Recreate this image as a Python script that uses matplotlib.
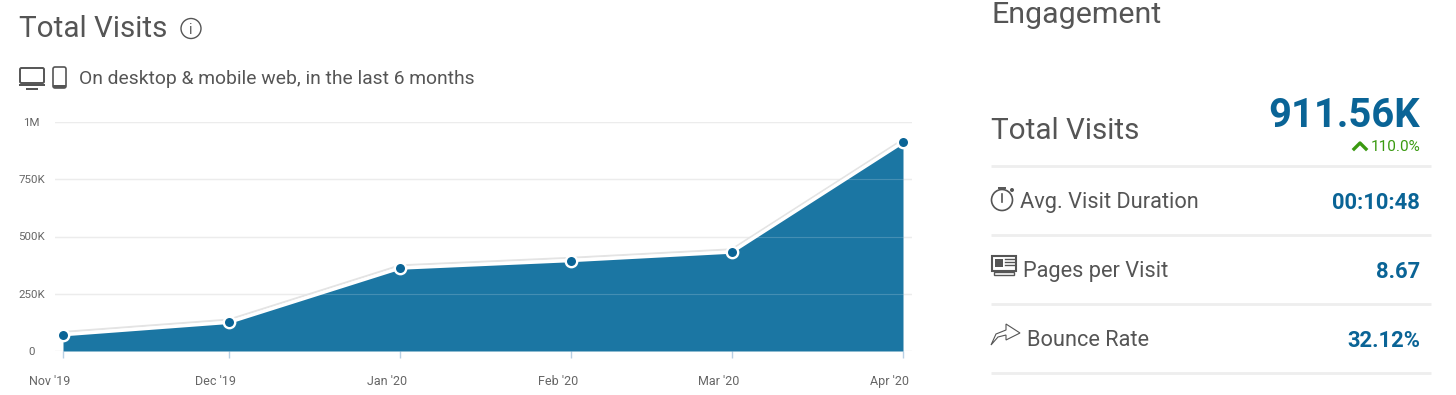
#!/usr/bin/env python3

import matplotlib
matplotlib.use("Agg")
import matplotlib.pyplot as plt
import matplotlib.dates as mdates
from matplotlib.patches import Circle, Rectangle, FancyBboxPatch, Polygon
from matplotlib.transforms import ScaledTranslation
from datetime import date

months = [date(2019, 11, 1), date(2019, 12, 1), date(2020, 1, 1),
          date(2020, 2, 1), date(2020, 3, 1), date(2020, 4, 1)]
month_labels = ["Nov '19", "Dec '19", "Jan '20", "Feb '20", "Mar '20", "Apr '20"]
visits = [71000, 125000, 362000, 395000, 432000, 911560]
y_ticks = [0, 250000, 500000, 750000, 1000000]
y_labels = ["0", "250K", "500K", "750K", "1M"]

stat_names = ["Avg. Visit Duration", "Pages per Visit", "Bounce Rate"]
stat_values = ["00:10:48", "8.67", "32.12%"]
stat_name_x = [1020, 1023, 1027]
stat_base_y = [208, 277, 346]
rule_y = [166, 235, 304, 373]

GREY = "#555555"
BLUE = "#0a6496"
AREA = "#1b76a3"
W, H = 1456, 395

plt.rcParams["font.family"] = "Roboto"


def px(size):
    return size * 72 / 100


fig = plt.figure(figsize=(W / 100, H / 100), dpi=100)

# chart, placed by pixels
left, right, top, bottom = 55, 912, 122, 351
ax = fig.add_axes([left / W, 1 - bottom / H, (right - left) / W, (bottom - top) / H])
x = mdates.date2num(months)
per_px = (x[-1] - x[0]) / (903 - 63)
ax.set_xlim(x[0] - 8 * per_px, x[-1] + 9 * per_px)
ax.set_ylim(0, 1000000)

ax.fill_between(x, 0, visits, color=AREA, lw=0, zorder=2)
shadow = ax.transData + ScaledTranslation(0, 2.8 / 100, fig.dpi_scale_trans)
ax.plot(x, visits, color="#e4e4e4", lw=1.4, zorder=3, transform=shadow, clip_on=False)
ax.plot(x, visits, color="white", lw=2.4, zorder=4, clip_on=False)
ax.plot(x, visits, ls="none", marker="o", ms=8.2, mfc=BLUE, mec="white", mew=1.7,
        zorder=5, clip_on=False)

for t in y_ticks:
    ax.axhline(t, color="#e8e8e8", lw=1, zorder=1)
    if t > 0:
        ax.axhline(t, color="white", lw=0.8, alpha=0.18, zorder=2.5)

for s in ax.spines.values():
    s.set_visible(False)
ax.set_xticks(x, month_labels)
ax.set_yticks(y_ticks, y_labels)
ax.tick_params(axis="x", length=5, width=1, color="#b9d0e4", labelsize=px(12.5), labelcolor="#666666", pad=12)
ax.tick_params(axis="y", length=0, labelsize=px(11.5), labelcolor="#666666", pad=0)

# tick labels sit left of their ticks on the x axis, centred in a column on the y axis
shift = ScaledTranslation(-13 / 100, 0, fig.dpi_scale_trans)
for lab in ax.get_xticklabels():
    lab.set_transform(lab.get_transform() + shift)
col = ScaledTranslation(-(55 - 31.5) / 100, 0, fig.dpi_scale_trans)
for lab in ax.get_yticklabels():
    lab.set_horizontalalignment("center")
    lab.set_transform(lab.get_transform() + col)

# page furniture, in pixel coordinates
ov = fig.add_axes([0, 0, 1, 1], zorder=-1)
ov.set_xlim(0, W)
ov.set_ylim(H, 0)
ov.axis("off")

ov.text(19, 37, "Total Visits", fontsize=px(29.6), color=GREY, va="baseline")
ov.add_patch(Circle((191, 28.5), 10, fc="none", ec=GREY, lw=1))
ov.text(191, 34, "i", fontsize=px(14), color=GREY, ha="center", va="baseline")
ov.text(79, 84, "On desktop & mobile web, in the last 6 months", fontsize=px(19.3), color=GREY, va="baseline")

# desktop and phone icons
ov.add_patch(FancyBboxPatch((20, 68), 24, 15, boxstyle="round,pad=0,rounding_size=1.5", fc="none", ec=GREY, lw=1.4))
ov.add_patch(Rectangle((19, 84), 26, 2, fc=GREY, ec="none"))
ov.add_patch(Rectangle((26, 88), 12, 1.5, fc=GREY, ec="none"))
ov.add_patch(FancyBboxPatch((53, 67), 13, 21, boxstyle="round,pad=0,rounding_size=2", fc="none", ec=GREY, lw=1.2))
ov.add_patch(Rectangle((53, 85), 13, 3, fc=GREY, ec="none"))

ov.text(992, 23, "Engagement", fontsize=px(30.4), color=GREY, va="baseline")
ov.text(991, 139, "Total Visits", fontsize=px(29.6), color=GREY, va="baseline")
ov.text(1420, 127, "911.56K", fontsize=px(40), color=BLUE, weight="bold", ha="right", va="baseline")
ov.text(1420, 151, "110.0%", fontsize=px(15.4), color="#3a9a10", ha="right", va="baseline")
ov.plot([1354, 1360, 1366], [149, 143, 149], color="#3a9a10", lw=2.4)

for y in rule_y:
    ov.plot([991, 1431], [y, y], color="#eeeeee", lw=2, solid_capstyle="butt")

for name, val, nx, by in zip(stat_names, stat_values, stat_name_x, stat_base_y):
    ov.text(nx, by, name, fontsize=px(21.8), color=GREY, va="baseline")
    ov.text(1420, by + 1, val, fontsize=px(22), color=BLUE, weight="bold", ha="right", va="baseline")

# stopwatch
ov.add_patch(Circle((1002, 200), 10.5, fc="none", ec=GREY, lw=1.2))
ov.plot([1002, 1002], [194, 202], color=GREY, lw=1.2)
ov.plot([999, 1005], [188, 188], color=GREY, lw=1.4)
ov.add_patch(Circle((1012, 190), 2, fc=GREY, ec="none"))

# newspaper
ov.add_patch(Rectangle((992, 256), 24, 15, fc="none", ec=GREY, lw=1.5))
ov.add_patch(Rectangle((995, 259), 8, 8, fc=GREY, ec="none"))
for ly in [259, 262, 265]:
    ov.plot([1005, 1014], [ly, ly], color=GREY, lw=1)
ov.add_patch(Rectangle((994, 272), 20, 3, fc="none", ec=GREY, lw=1))

# share arrow
ov.add_patch(Polygon([[991, 345], [996, 334], [1006, 330], [1006, 324], [1020, 333],
                      [1006, 340], [1006, 335], [998, 337]],
                     closed=True, fc="none", ec=GREY, lw=0.8))

fig.savefig("out.png", dpi=100, facecolor="white")
